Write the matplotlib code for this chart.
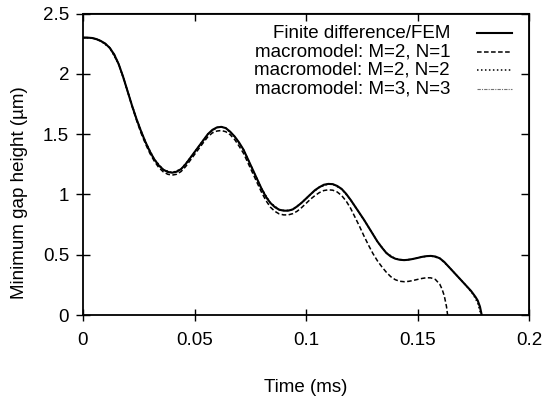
import matplotlib
matplotlib.use("Agg")
import matplotlib.pyplot as plt
from matplotlib.lines import Line2D

plt.rcParams['font.family'] = ['Liberation Sans', 'DejaVu Sans']

# ---- data ----
t_fem = [0, 0.002, 0.004, 0.006, 0.008, 0.010, 0.012, 0.014, 0.016, 0.018,
         0.020, 0.022, 0.024, 0.026, 0.028, 0.030, 0.032, 0.034, 0.036, 0.038,
         0.040, 0.042, 0.044, 0.046, 0.048, 0.050, 0.052, 0.054, 0.056, 0.058,
         0.060, 0.062, 0.064, 0.066, 0.068, 0.070, 0.072, 0.074, 0.076, 0.078,
         0.080, 0.082, 0.084, 0.086, 0.088, 0.090, 0.092, 0.094, 0.096, 0.098,
         0.100, 0.102, 0.104, 0.106, 0.108, 0.110, 0.112, 0.114, 0.116, 0.118,
         0.120, 0.122, 0.124, 0.126, 0.128, 0.130, 0.132, 0.134, 0.136, 0.138,
         0.140, 0.142, 0.144, 0.146, 0.148, 0.150, 0.152, 0.154, 0.156, 0.158,
         0.160, 0.162, 0.164, 0.166, 0.168, 0.170, 0.172, 0.174, 0.176, 0.177,
         0.178, 0.1788]
h_fem = [2.30, 2.30, 2.297, 2.288, 2.272, 2.25, 2.215, 2.16, 2.08, 1.975,
         1.855, 1.735, 1.625, 1.525, 1.435, 1.355, 1.29, 1.24, 1.205, 1.186,
         1.18, 1.188, 1.21, 1.25, 1.30, 1.35, 1.40, 1.45, 1.50, 1.535,
         1.555, 1.56, 1.55, 1.52, 1.48, 1.43, 1.37, 1.29, 1.21, 1.13,
         1.05, 0.98, 0.93, 0.895, 0.873, 0.865, 0.865, 0.875, 0.90, 0.93,
         0.965, 1.00, 1.035, 1.06, 1.08, 1.087, 1.085, 1.07, 1.045, 1.005,
         0.955, 0.90, 0.845, 0.79, 0.73, 0.67, 0.61, 0.56, 0.515, 0.485,
         0.467, 0.458, 0.455, 0.458, 0.465, 0.473, 0.482, 0.488, 0.49, 0.485,
         0.47, 0.44, 0.40, 0.36, 0.32, 0.28, 0.24, 0.20, 0.15, 0.12,
         0.07, 0.0]

t_m2n1 = [0, 0.002, 0.004, 0.006, 0.008, 0.010, 0.012, 0.014, 0.016, 0.018,
          0.020, 0.022, 0.024, 0.026, 0.028, 0.030, 0.032, 0.034, 0.036, 0.038,
          0.040, 0.042, 0.044, 0.046, 0.048, 0.050, 0.052, 0.054, 0.056, 0.058,
          0.060, 0.062, 0.064, 0.066, 0.068, 0.070, 0.072, 0.074, 0.076, 0.078,
          0.080, 0.082, 0.084, 0.086, 0.088, 0.090, 0.092, 0.094, 0.096, 0.098,
          0.100, 0.102, 0.104, 0.106, 0.108, 0.110, 0.112, 0.114, 0.116, 0.118,
          0.120, 0.122, 0.124, 0.126, 0.128, 0.130, 0.132, 0.134, 0.136, 0.138,
          0.140, 0.142, 0.144, 0.146, 0.148, 0.150, 0.152, 0.154, 0.156, 0.158,
          0.160, 0.161, 0.162, 0.163, 0.1635]
h_m2n1 = [2.30, 2.30, 2.297, 2.288, 2.272, 2.25, 2.215, 2.16, 2.08, 1.975,
          1.855, 1.73, 1.615, 1.51, 1.42, 1.34, 1.275, 1.222, 1.187, 1.167,
          1.16, 1.167, 1.19, 1.23, 1.28, 1.33, 1.38, 1.43, 1.478, 1.51,
          1.525, 1.53, 1.52, 1.495, 1.455, 1.40, 1.34, 1.26, 1.18, 1.10,
          1.02, 0.95, 0.895, 0.86, 0.838, 0.83, 0.83, 0.84, 0.86, 0.89,
          0.925, 0.96, 0.99, 1.015, 1.032, 1.038, 1.035, 1.02, 0.99, 0.945,
          0.885, 0.81, 0.735, 0.655, 0.58, 0.51, 0.45, 0.40, 0.355, 0.318,
          0.293, 0.28, 0.276, 0.279, 0.286, 0.295, 0.303, 0.309, 0.308, 0.295,
          0.255, 0.215, 0.16, 0.07, 0.0]

t_m2n2 = [0, 0.004, 0.008, 0.012, 0.016, 0.020, 0.024, 0.028, 0.032, 0.036,
          0.040, 0.044, 0.048, 0.052, 0.056, 0.060, 0.062, 0.064, 0.068, 0.072,
          0.076, 0.080, 0.084, 0.088, 0.091, 0.094, 0.098, 0.102, 0.106, 0.110,
          0.112, 0.116, 0.120, 0.124, 0.128, 0.132, 0.136, 0.140, 0.144, 0.148,
          0.152, 0.156, 0.160, 0.164, 0.168, 0.172, 0.175, 0.177, 0.1785]
h_m2n2 = [2.30, 2.297, 2.272, 2.215, 2.08, 1.855, 1.625, 1.435, 1.29, 1.205,
          1.18, 1.21, 1.30, 1.40, 1.50, 1.555, 1.56, 1.55, 1.48, 1.37,
          1.21, 1.05, 0.93, 0.873, 0.865, 0.875, 0.93, 1.00, 1.06, 1.087,
          1.085, 1.045, 0.955, 0.845, 0.73, 0.61, 0.515, 0.467, 0.455, 0.465,
          0.482, 0.49, 0.47, 0.40, 0.32, 0.24, 0.17, 0.10, 0.0]

t_m3n3 = [0, 0.004, 0.008, 0.012, 0.016, 0.020, 0.024, 0.028, 0.032, 0.036,
          0.040, 0.044, 0.048, 0.052, 0.056, 0.060, 0.062, 0.064, 0.068, 0.072,
          0.076, 0.080, 0.084, 0.088, 0.091, 0.094, 0.098, 0.102, 0.106, 0.110,
          0.112, 0.116, 0.120, 0.124, 0.128, 0.132, 0.136, 0.140, 0.144, 0.148,
          0.152, 0.156, 0.160, 0.164, 0.168, 0.172, 0.175, 0.177, 0.1787]
h_m3n3 = [2.30, 2.297, 2.272, 2.215, 2.08, 1.855, 1.625, 1.435, 1.29, 1.205,
          1.18, 1.21, 1.30, 1.40, 1.50, 1.555, 1.56, 1.55, 1.48, 1.37,
          1.21, 1.05, 0.93, 0.873, 0.865, 0.875, 0.93, 1.00, 1.06, 1.087,
          1.085, 1.045, 0.955, 0.845, 0.73, 0.61, 0.515, 0.467, 0.455, 0.465,
          0.482, 0.49, 0.47, 0.40, 0.32, 0.24, 0.175, 0.12, 0.0]

labels = ["Finite difference/FEM", "macromodel: M=2, N=1",
          "macromodel: M=2, N=2", "macromodel: M=3, N=3"]
x_ticks = [0, 0.05, 0.1, 0.15, 0.2]
x_ticklabels = ["0", "0.05", "0.1", "0.15", "0.2"]
y_ticks = [0, 0.5, 1, 1.5, 2, 2.5]
y_ticklabels = ["0", "0.5", "1", "1.5", "2", "2.5"]

# ---- figure ----
fig = plt.figure(figsize=(5.43, 3.98), dpi=100)
ax = fig.add_axes([83/543, 1-315/398, 446/543, 301.5/398])

styles = [
    dict(color='black', lw=1.5, ls='-'),
    dict(color='black', lw=1.1, ls=(0, (3.0, 1.6))),
    dict(color='black', lw=1.1, ls=(0, (1.0, 1.6))),
    dict(color='0.45', lw=0.8, ls=(0, (3.0, 1.0, 1.0, 1.0))),
]
series = [(t_fem, h_fem), (t_m2n1, h_m2n1), (t_m2n2, h_m2n2), (t_m3n3, h_m3n3)]
for (tx, hy), st in zip(series[::-1], styles[::-1]):
    ax.plot(tx, hy, **st)

ax.set_xlim(0, 0.2)
ax.set_ylim(0, 2.5)
ax.set_xticks(x_ticks)
ax.set_xticklabels(x_ticklabels)
ax.set_yticks(y_ticks)
ax.set_yticklabels(y_ticklabels)
ax.tick_params(axis='both', labelsize=13.5, width=1.0, color='black')
ax.tick_params(axis='x', which='major', direction='inout', length=9, pad=8)
ax.tick_params(axis='y', which='major', direction='inout', length=10, pad=5)
for s in ax.spines.values():
    s.set_linewidth(1.3)

# inward ticks on the top and right edges (no labels)
top = ax.secondary_xaxis('top')
top.set_xticks(x_ticks)
top.tick_params(direction='in', length=6, width=1.0, labeltop=False)
right = ax.secondary_yaxis('right')
right.set_yticks(y_ticks)
right.tick_params(direction='in', length=6, width=1.0, labelright=False)

# manual legend (text right-aligned, line sample to the right)
rows_y = [0.9337, 0.872, 0.811, 0.750]
for lab, st, yy in zip(labels, styles, rows_y):
    ax.text(0.823, yy, lab, transform=ax.transAxes, ha='right', va='center',
            fontsize=13.5)
    ax.add_line(Line2D([0.883, 0.962], [yy, yy], transform=ax.transAxes, **st))

fig.text(306/543, 1-387/398, "Time (ms)", ha='center', va='center', fontsize=13.5)
fig.text(20/543, 1-193/398, "Minimum gap height (µm)", ha='center',
         va='center', rotation=90, fontsize=13.5)

fig.savefig("out.png", dpi=100)
